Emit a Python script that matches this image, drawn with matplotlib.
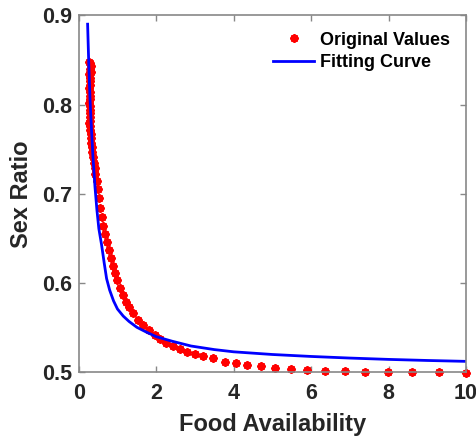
import numpy as np
import matplotlib.pyplot as plt

plt.rcParams['font.family'] = ['Liberation Sans', 'DejaVu Sans']
plt.rcParams['font.weight'] = 'bold'

# original values (food availability, sex ratio)
orig_x = [0.27, 0.30, 0.32, 0.28, 0.31, 0.27, 0.29, 0.30, 0.28, 0.27, 0.29, 0.30,
          0.28, 0.27, 0.29, 0.28, 0.30, 0.28, 0.29, 0.27, 0.29, 0.30,
          0.31, 0.32, 0.33, 0.34, 0.35, 0.37, 0.39, 0.41, 0.43, 0.46,
          0.49, 0.52, 0.56, 0.60, 0.64, 0.68, 0.72, 0.77, 0.83, 0.88, 0.94, 1.00,
          1.07, 1.14, 1.22, 1.31, 1.41, 1.54, 1.67, 1.82, 1.96, 2.10, 2.26, 2.43,
          2.62, 2.80, 3.00, 3.22, 3.48, 3.78, 4.05, 4.34, 4.70, 5.07, 5.47, 5.90,
          6.36, 6.88, 7.39, 7.98, 8.61, 9.30, 10.0]
orig_y = [0.848, 0.846, 0.843, 0.840, 0.837, 0.834, 0.830, 0.826, 0.822, 0.818, 0.814, 0.810,
          0.806, 0.802, 0.798, 0.794, 0.790, 0.786, 0.782, 0.779, 0.776, 0.772,
          0.767, 0.762, 0.757, 0.752, 0.747, 0.741, 0.735, 0.729, 0.722, 0.714,
          0.705, 0.695, 0.684, 0.674, 0.664, 0.655, 0.646, 0.637, 0.628, 0.619, 0.611, 0.603,
          0.594, 0.587, 0.579, 0.573, 0.566, 0.559, 0.553, 0.547, 0.542, 0.537, 0.533, 0.529,
          0.526, 0.523, 0.521, 0.518, 0.516, 0.512, 0.510, 0.508, 0.507, 0.505, 0.504, 0.503,
          0.502, 0.501, 0.500, 0.500, 0.500, 0.500, 0.4998]

# fitting curve
fit_x = [0.23, 0.26, 0.29, 0.33, 0.37, 0.42, 0.47, 0.52, 0.59, 0.66, 0.72, 0.80, 0.90,
         1.00, 1.15, 1.30, 1.50, 1.75, 2.00, 2.40, 2.90, 3.50, 4.00, 5.00, 6.00, 7.00,
         8.00, 9.00, 10.0]
fit_y = [0.890, 0.845, 0.808, 0.772, 0.740, 0.708, 0.682, 0.661, 0.643, 0.622, 0.605, 0.592,
         0.580, 0.571, 0.563, 0.557, 0.5505, 0.5450, 0.5400, 0.5350, 0.5295, 0.5255, 0.5230,
         0.5200, 0.5178, 0.5160, 0.5145, 0.5133, 0.5123]

fig = plt.figure(figsize=(4.77, 4.36), dpi=100)
ax = fig.add_axes([0.165, 0.146, 0.812, 0.819])

ax.plot(orig_x, orig_y, linestyle='none', marker=(8, 2, 0), color='red',
        markersize=6, markeredgewidth=1.5, label='Original Values', clip_on=False)
ax.plot(fit_x, fit_y, color='blue', linewidth=2.0, label='Fitting Curve')

ax.set_xlim(0, 10)
ax.set_ylim(0.5, 0.9)
ax.set_xticks([0, 2, 4, 6, 8, 10])
ax.set_yticks([0.5, 0.6, 0.7, 0.8, 0.9])
ax.tick_params(direction='in', top=True, right=True, length=4, width=1,
               colors='#888888', labelcolor='#262626', labelsize=15.5)
ax.tick_params(axis='x', pad=8)
ax.tick_params(axis='y', pad=5)
for lab in ax.get_xticklabels() + ax.get_yticklabels():
    lab.set_fontweight('bold')
for s in ax.spines.values():
    s.set_color('#888888')
    s.set_linewidth(1.2)

ax.set_xlabel('Food Availability', fontsize=17, fontweight='bold', color='#262626', labelpad=6)
ax.set_ylabel('Sex Ratio', fontsize=17, fontweight='bold', color='#262626', labelpad=6)

leg = ax.legend(loc='upper right', frameon=False, fontsize=13, handlelength=2.3,
                handletextpad=0.3, labelspacing=0.3, borderaxespad=0.5,
                bbox_to_anchor=(1.0, 1.0))
for t in leg.get_texts():
    t.set_fontweight('bold')
    t.set_color('black')

fig.savefig('out.png', dpi=100)
